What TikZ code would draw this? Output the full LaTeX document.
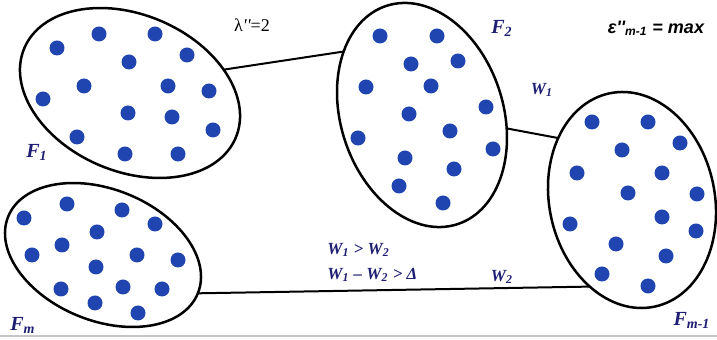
\documentclass[tikz,border=0pt]{standalone}
\usepackage{fontspec}
\newfontfamily\labserif{Liberation Serif}
\newfontfamily\labsans{Liberation Sans}
\usetikzlibrary{shapes.geometric}
\definecolor{dotblue}{RGB}{32,68,176}
\definecolor{labnavy}{RGB}{30,30,115}

\begin{document}
\begin{tikzpicture}[
    x=0.5pt, y=-0.5pt,
    group/.style={draw=black, line width=1.25pt, ellipse, inner sep=0pt, outer sep=0pt},
    dot/.style={fill=dotblue},
    link/.style={line width=1pt},
    flabel/.style={text=labnavy, font=\labserif\bfseries\itshape\fontsize{10}{12}\selectfont},
    wlabel/.style={text=labnavy, font=\labserif\bfseries\itshape\fontsize{8.5}{10}\selectfont, inner sep=0pt}
]
\useasboundingbox (0,0) rectangle (717,340);

\node[group, minimum width=114.8pt, minimum height=78.4pt, rotate=-23] (fone) at (130,93) {};
\node[group, minimum width=81.2pt, minimum height=114.8pt, rotate=18] (ftwo) at (422,115) {};
\node[group, minimum width=82.7pt, minimum height=109pt, rotate=12] (fmone) at (632,200) {};
\node[group, minimum width=102.3pt, minimum height=65.7pt, rotate=-22] (fm) at (103,255) {};

% members of each group
\foreach \dx/\dy in {57/48, 99/34, 155/34, 187/55, 129/62, 84/86, 168/86, 209/91,
    43/99, 128/113, 172/117, 213/130, 77/137, 125/154, 178/154}
  \fill[dot] (\dx,\dy) circle (3.75pt);
\foreach \dx/\dy in {380/36, 437/36, 411/64, 458/61, 366/87, 431/86, 486/107, 409/114,
    450/131, 358/138, 493/149, 405/158, 454/169, 399/186, 443/203}
  \fill[dot] (\dx,\dy) circle (3.75pt);
\foreach \dx/\dy in {592/122, 648/122, 622/150, 680/143, 577/173, 662/173, 628/193, 697/194,
    662/217, 570/224, 696/231, 616/244, 666/256, 602/274, 648/286}
  \fill[dot] (\dx,\dy) circle (3.75pt);
\foreach \dx/\dy in {67/204, 122/210, 24/218, 155/224, 97/232, 62/245, 32/255, 137/255,
    178/260, 96/267, 61/289, 123/287, 162/289, 95/303, 138/313}
  \fill[dot] (\dx,\dy) circle (3.75pt);

\draw[link] (fone.37) -- (ftwo.123);
\draw[link] (ftwo.-27) -- (fmone.128);
\draw[link] (fm.0) -- (fmone.232);

\node[flabel] (lfone) at (37,152) {F\textsubscript{1}};
\node[flabel] (lftwo) at (502,28) {F\textsubscript{2}};
\node[flabel] (lfm) at (23,325) {F\textsubscript{m}};
\node[flabel] (lfmone) at (692,320) {F\textsubscript{m-1}};
\node (lambda) at (252,25) {\labserif\fontsize{9}{11}\selectfont λ{\itshape''}=2};
\node (eps) at (656,28) {\labsans\bfseries\itshape\fontsize{9}{11}\selectfont ε''\textsubscript{m-1} = max};
\node[wlabel] (wone) at (542,90) {W\textsubscript{1}};
\node[wlabel, anchor=west] (ineqa) at (327,250) {W\textsubscript{1} > W\textsubscript{2}};
\node[wlabel, anchor=west] (ineqb) at (327,275) {W\textsubscript{1} – W\textsubscript{2} > Δ};
\node[wlabel] (wtwo) at (502,277) {W\textsubscript{2}};

\draw[gray!45, line width=1.2pt] (0,336) -- (717,336);
\end{tikzpicture}
\end{document}
